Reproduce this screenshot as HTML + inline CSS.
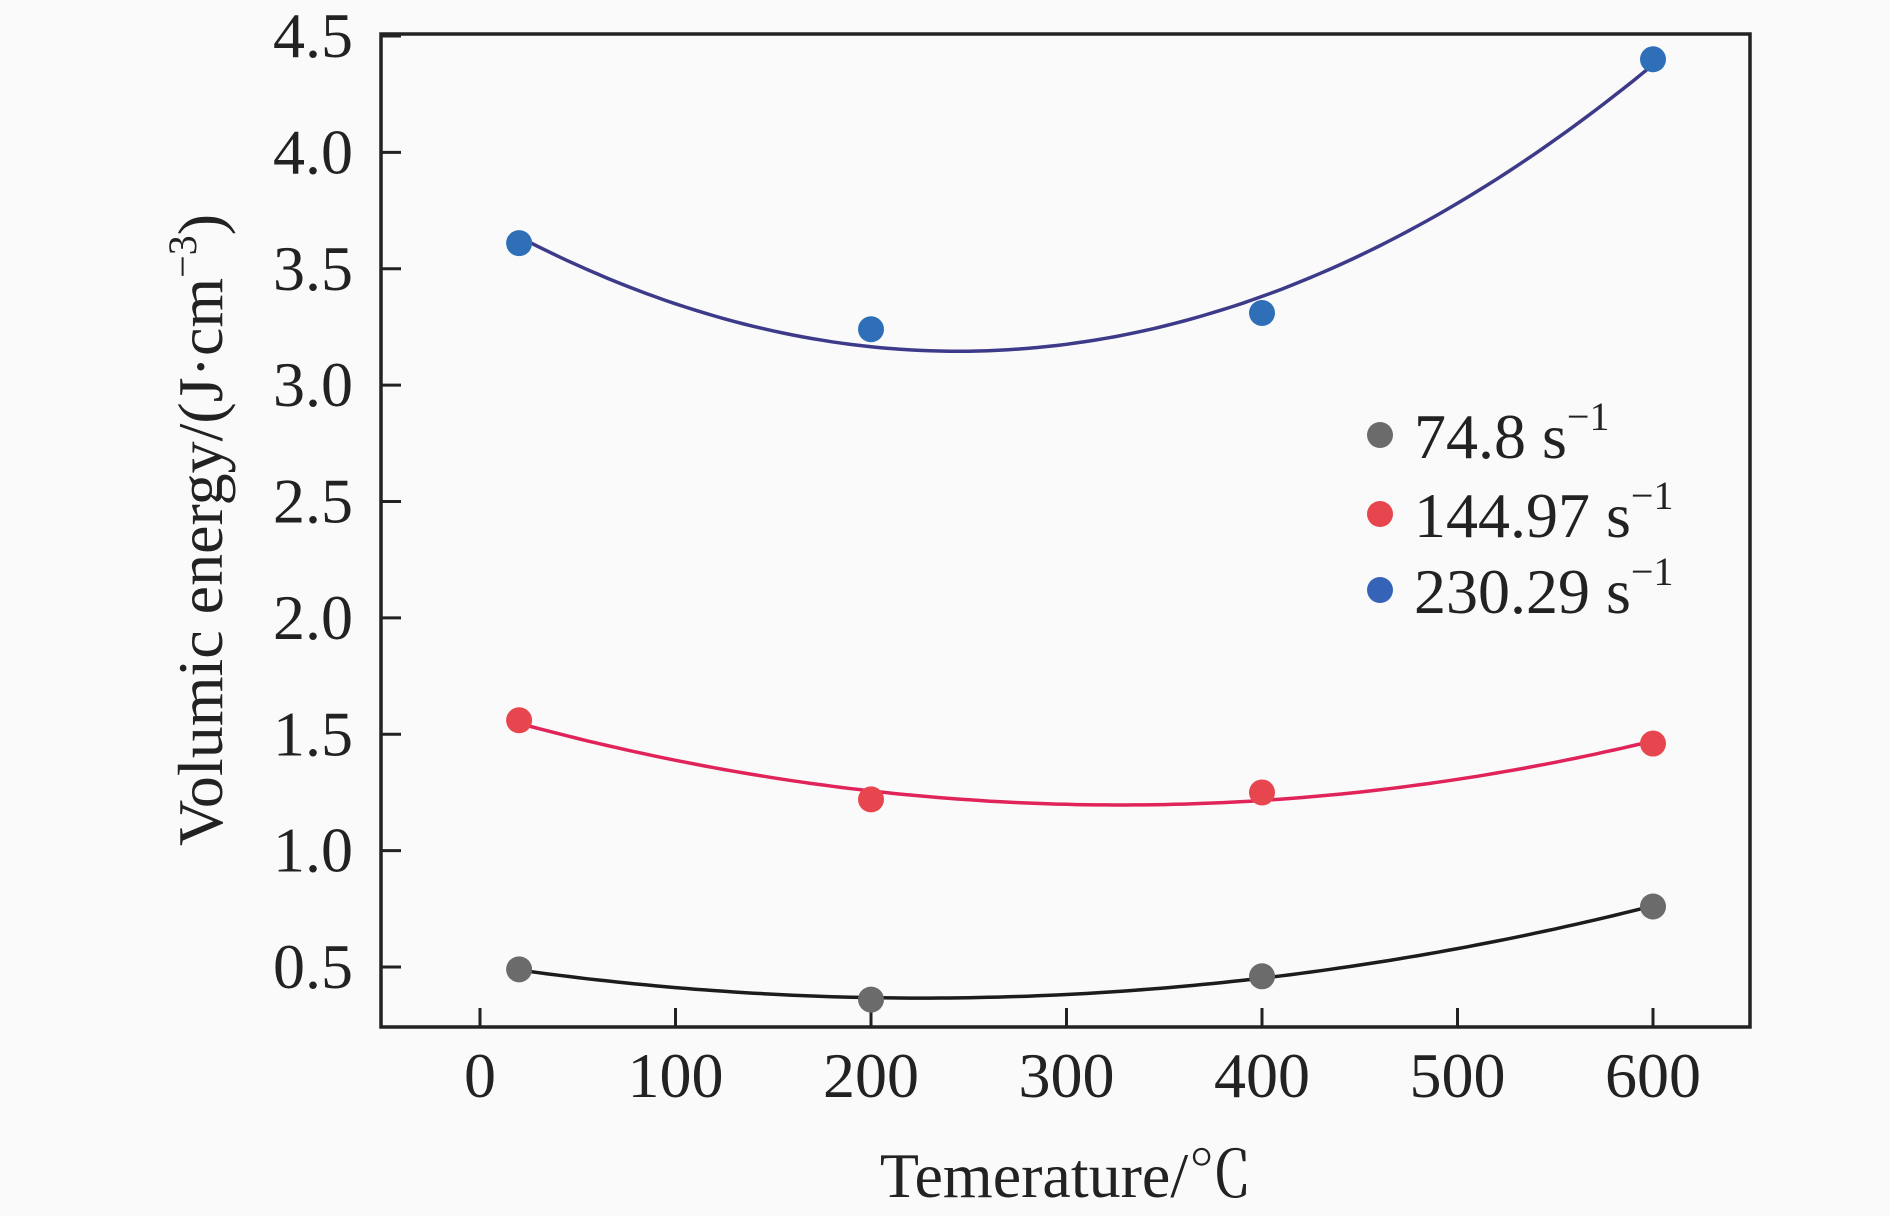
<!DOCTYPE html>
<html><head><meta charset="utf-8"><style>
html,body{margin:0;padding:0;background:#fafafa;}
svg{display:block;font-family:"Liberation Serif","Noto Serif CJK SC",serif;}
</style></head><body>
<svg id="chart" width="1890" height="1216" viewBox="0 0 1890 1216">
<rect x="0" y="0" width="1890" height="1216" fill="#fafafa"/>
<g id="marks"></g>
<rect x="381" y="34" width="1369" height="993" fill="none" stroke="#222" stroke-width="3.5"/>
<text x="1066" y="1197" font-size="64" text-anchor="middle" fill="#222">Temerature/℃</text>
<text transform="translate(222,530) rotate(-90)" font-size="64" text-anchor="middle" fill="#222">Volumic energy/(J·cm<tspan dy="-26" font-size="40">−3</tspan><tspan dy="26">)</tspan></text>
<g>
<circle cx="1380" cy="435" r="13" fill="#6b6b6b"/>
<text x="1414" y="458" font-size="64" fill="#222">74.8 s<tspan dy="-28" font-size="40">−1</tspan></text>
<circle cx="1380" cy="514" r="13" fill="#e8464f"/>
<text x="1414" y="537" font-size="64" fill="#222">144.97 s<tspan dy="-28" font-size="40">−1</tspan></text>
<circle cx="1380" cy="590" r="13" fill="#3563b8"/>
<text x="1414" y="613" font-size="64" fill="#222">230.29 s<tspan dy="-28" font-size="40">−1</tspan></text>
</g>
</svg>
<script>
const temps = [20, 200, 400, 600];
const s74 = [0.49, 0.36, 0.46, 0.76];
const s145 = [1.56, 1.22, 1.25, 1.46];
const s230 = [3.61, 3.24, 3.31, 4.40];
const xTicks = [0, 100, 200, 300, 400, 500, 600];
const yTicks = [0.5, 1.0, 1.5, 2.0, 2.5, 3.0, 3.5, 4.0, 4.5];

const NS = "http://www.w3.org/2000/svg";
function xs(v){ return 480 + v * 1.955; }
function ys(v){ return 967 - (v - 0.5) * 232.75; }
const g = document.getElementById('marks');
const svg = document.getElementById('chart');
function mk(tag, attrs, parent){
  const e = document.createElementNS(NS, tag);
  for (const k in attrs) e.setAttribute(k, attrs[k]);
  (parent || g).appendChild(e);
  return e;
}
xTicks.forEach(t => {
  const l = mk('line', {x1: xs(t), x2: xs(t), y1: 1027, y2: 1008, stroke: '#222', 'stroke-width': 3});
  
  
  const tx = mk('text', {x: xs(t), y: 1097, 'font-size': 64, 'text-anchor': 'middle', fill: '#222'}, svg);
  tx.textContent = t;
  
  
});
yTicks.forEach(t => {
  const l = mk('line', {x1: 381, x2: 401, y1: ys(t), y2: ys(t), stroke: '#222', 'stroke-width': 3});
  
  
  const tx = mk('text', {x: 353, y: ys(t) + 21, 'font-size': 64, 'text-anchor': 'end', fill: '#222'}, svg);
  tx.textContent = t.toFixed(1);
  
  
});
function fit(x, y){
  let S = [0,0,0,0,0], T = [0,0,0];
  for (let i = 0; i < x.length; i++){
    let p = 1;
    for (let k = 0; k < 5; k++){ S[k] += p; if (k < 3) T[k] += p * y[i]; p *= x[i]; }
  }
  const A = [[S[0],S[1],S[2],T[0]],[S[1],S[2],S[3],T[1]],[S[2],S[3],S[4],T[2]]];
  for (let i = 0; i < 3; i++){
    for (let j = i + 1; j < 3; j++){
      const f = A[j][i] / A[i][i];
      for (let k = i; k < 4; k++) A[j][k] -= f * A[i][k];
    }
  }
  const c = [0,0,0];
  for (let i = 2; i >= 0; i--){
    let s = A[i][3];
    for (let k = i + 1; k < 3; k++) s -= A[i][k] * c[k];
    c[i] = s / A[i][i];
  }
  return c;
}
const series = [
  {vals: s74, line: '#1c1c1c', dot: '#6b6b6b', name: '74-8'},
  {vals: s145, line: '#e0245a', dot: '#e8464f', name: '144-97'},
  {vals: s230, line: '#3d3a8a', dot: '#2f6fb8', name: '230-29'}
];
series.forEach(s => {
  const c = fit(temps, s.vals);
  let d = '';
  for (let t = temps[0]; t <= temps[temps.length-1]; t += 5){
    const v = c[0] + c[1]*t + c[2]*t*t;
    d += (d ? 'L' : 'M') + xs(t).toFixed(1) + ' ' + ys(v).toFixed(1);
  }
  const p = mk('path', {d: d, fill: 'none', stroke: s.line, 'stroke-width': 3.5});
  
  
  s.vals.forEach((v, i) => {
    const ci = mk('circle', {cx: xs(temps[i]), cy: ys(v), r: 13, fill: s.dot});
    
    
  });
});
</script>
</body></html>
